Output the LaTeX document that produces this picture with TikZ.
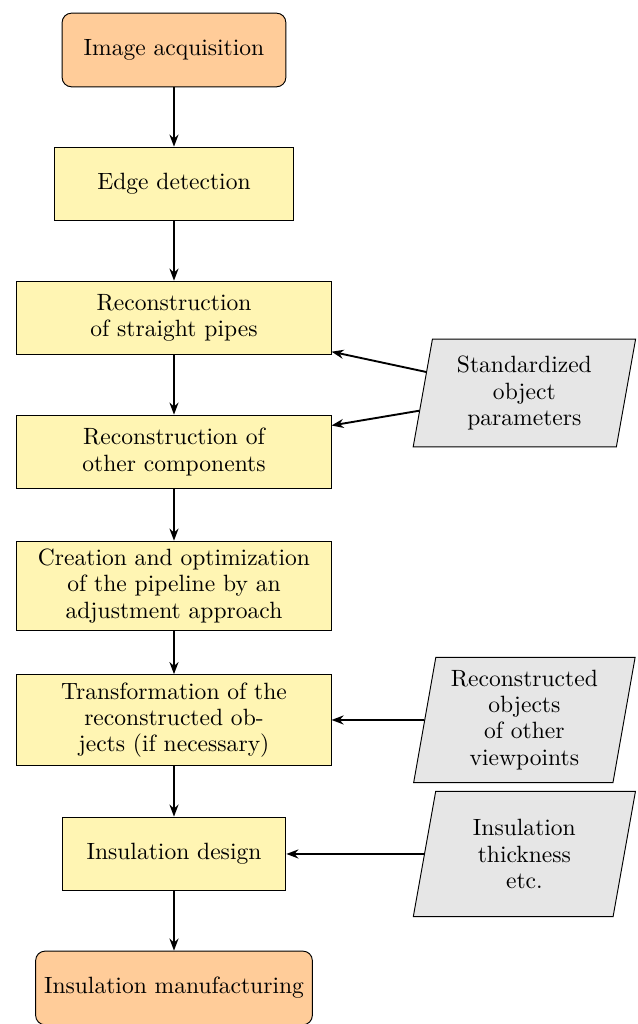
\documentclass[tikz,border=0pt]{standalone}
\usepackage{xcolor}
\usepackage{tikz}
\usetikzlibrary{arrows.meta,shapes.geometric}
\definecolor{termfill}{HTML}{FFCC99}
\definecolor{procfill}{HTML}{FFF5B3}
\definecolor{datafill}{HTML}{E6E6E6}
\linespread{0.93}

\begin{document}
\begin{tikzpicture}[
  term/.style={draw, fill=termfill, rounded corners=4pt, minimum width=3.34cm, minimum height=1.1cm, align=center},
  proc/.style={draw, fill=procfill, minimum height=1.1cm, align=center},
  data/.style={draw, fill=datafill, trapezium, trapezium left angle=80, trapezium right angle=100, trapezium stretches=true, minimum width=3.33cm, minimum height=1.87cm, align=center},
  arr/.style={-{Stealth[length=1.8mm]}, thick}
]
  \useasboundingbox (-2.597,0.746) rectangle (6.925,-14.538);
  % main chain
  \node[term] (acq) at (0,0) {Image acquisition};
  \node[proc, minimum width=3.58cm] (edge) at (0,-2) {Edge detection};
  \node[proc, minimum width=4.69cm] (pipes) at (0,-4) {Reconstruction\\of straight pipes};
  \node[proc, minimum width=4.69cm] (other) at (0,-6) {Reconstruction of\\other components};
  \node[proc, minimum width=4.69cm, minimum height=1.31cm] (adjust) at (0,-8) {Creation and optimization\\of the pipeline by an\\adjustment approach};
  \node[proc, minimum width=4.69cm, minimum height=1.31cm] (trans) at (0,-10) {Transformation of the\\reconstructed ob-\\jects (if necessary)};
  \node[proc, minimum width=3.34cm] (design) at (0,-12) {Insulation design};
  \node[term, minimum width=4.13cm] (manuf) at (0,-14) {Insulation manufacturing};
  % inputs
  \node[data, minimum height=1.61cm] (params) at (5.23,-5.12) {Standardized\\object\\parameters};
  \node[data] (views) at (5.23,-10) {Reconstructed\\objects\\of other\\viewpoints};
  \node[data] (thick) at (5.23,-12) {Insulation\\thickness\\etc.};
  \draw[arr] (acq) -- (edge);
  \draw[arr] (edge) -- (pipes);
  \draw[arr] (pipes) -- (other);
  \draw[arr] (other) -- (adjust);
  \draw[arr] (adjust) -- (trans);
  \draw[arr] (trans) -- (design);
  \draw[arr] (design) -- (manuf);
  \draw[arr] (params) -- (pipes);
  \draw[arr] (params) -- (other);
  \draw[arr] (views) -- (trans);
  \draw[arr] (thick) -- (design);
\end{tikzpicture}
\end{document}
